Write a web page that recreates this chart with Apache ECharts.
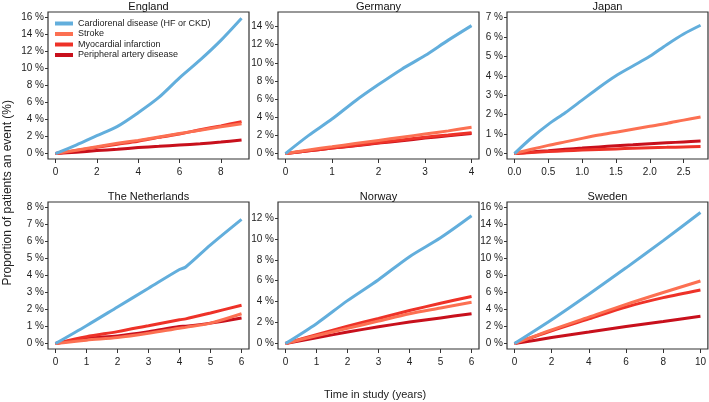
<!DOCTYPE html>
<html>
<head>
<meta charset="utf-8">
<script src="https://cdn.jsdelivr.net/npm/echarts@6/dist/echarts.min.js"></script>
<style>
  html, body { margin: 0; padding: 0; background: #fff; }
  #chart { width: 709px; height: 402px; }
</style>
</head>
<body>
<div id="chart"></div>
<script>
    // series names, same order as the legend
    var seriesNames = ['Cardiorenal disease (HF or CKD)', 'Stroke', 'Myocardial infarction', 'Peripheral artery disease'];
    var seriesColors = ['#62aedc', '#fc7052', '#ee3228', '#c8101c'];

    // England
    var englandTime = [0, 1, 2, 3, 4, 5, 6, 7, 8, 9];
    var englandCardio = [0, 1.0, 2.1, 3.2, 4.8, 6.6, 8.9, 11.0, 13.3, 15.9];
    var englandStroke = [0, 0.4, 0.8, 1.2, 1.55, 1.95, 2.35, 2.75, 3.15, 3.5];
    var englandMI = [0, 0.35, 0.75, 1.1, 1.45, 1.9, 2.3, 2.8, 3.25, 3.75];
    var englandPAD = [0, 0.15, 0.35, 0.5, 0.7, 0.85, 1.0, 1.15, 1.35, 1.6];

    // Germany
    var germanyTime = [0, 0.5, 1, 1.5, 2, 2.5, 3, 3.5, 4];
    var germanyCardio = [0, 2.0, 3.8, 5.8, 7.6, 9.3, 10.8, 12.5, 14.1];
    var germanyStroke = [0, 0.4, 0.75, 1.1, 1.45, 1.8, 2.15, 2.5, 2.9];
    var germanyMI = [0, 0.3, 0.6, 0.9, 1.2, 1.5, 1.8, 2.05, 2.3];
    var germanyPAD = [0, 0.3, 0.6, 0.85, 1.15, 1.4, 1.7, 1.95, 2.2];

    // Japan
    var japanTime = [0, 0.25, 0.5, 0.75, 1, 1.25, 1.5, 1.75, 2, 2.25, 2.5, 2.75];
    var japanCardio = [0, 0.8, 1.5, 2.1, 2.75, 3.4, 4.0, 4.5, 5.0, 5.6, 6.15, 6.6];
    var japanStroke = [0, 0.22, 0.42, 0.6, 0.78, 0.95, 1.1, 1.25, 1.4, 1.55, 1.72, 1.88];
    var japanMI = [0, 0.05, 0.1, 0.14, 0.18, 0.21, 0.24, 0.27, 0.3, 0.32, 0.34, 0.36];
    var japanPAD = [0, 0.08, 0.15, 0.22, 0.28, 0.34, 0.4, 0.45, 0.5, 0.55, 0.6, 0.65];

    // The Netherlands
    var netherlandsTime = [0, 1, 2, 3, 4, 4.2, 5, 6];
    var netherlandsCardio = [0, 1.05, 2.15, 3.25, 4.35, 4.5, 5.8, 7.3];
    var netherlandsStroke = [0, 0.2, 0.35, 0.6, 0.9, 0.95, 1.2, 1.75];
    var netherlandsMI = [0, 0.4, 0.7, 1.05, 1.4, 1.45, 1.8, 2.25];
    var netherlandsPAD = [0, 0.3, 0.45, 0.7, 1.0, 1.02, 1.2, 1.5];

    // Norway
    var norwayTime = [0, 1, 2, 3, 4, 5, 6];
    var norwayCardio = [0, 1.9, 4.1, 6.1, 8.3, 10.1, 12.2];
    var norwayStroke = [0, 0.75, 1.45, 2.15, 2.85, 3.4, 3.95];
    var norwayMI = [0, 0.85, 1.65, 2.4, 3.15, 3.85, 4.5];
    var norwayPAD = [0, 0.55, 1.1, 1.6, 2.05, 2.45, 2.85];

    // Sweden
    var swedenTime = [0, 2, 4, 6, 8, 10];
    var swedenCardio = [0, 2.8, 5.8, 8.9, 12.1, 15.4];
    var swedenStroke = [0, 1.6, 3.1, 4.6, 6.0, 7.35];
    var swedenMI = [0, 1.5, 2.9, 4.3, 5.4, 6.3];
    var swedenPAD = [0, 0.7, 1.35, 2.0, 2.6, 3.2];

    // tick values
    var englandXTicks = [0, 2, 4, 6, 8];
    var englandYTicks = [0, 2, 4, 6, 8, 10, 12, 14, 16];
    var germanyXTicks = [0, 1, 2, 3, 4];
    var germanyYTicks = [0, 2, 4, 6, 8, 10, 12, 14];
    var japanXTicks = [0, 0.5, 1, 1.5, 2, 2.5];
    var japanYTicks = [0, 1, 2, 3, 4, 5, 6, 7];
    var netherlandsXTicks = [0, 1, 2, 3, 4, 5, 6];
    var netherlandsYTicks = [0, 1, 2, 3, 4, 5, 6, 7, 8];
    var norwayXTicks = [0, 1, 2, 3, 4, 5, 6];
    var norwayYTicks = [0, 2, 4, 6, 8, 10, 12];
    var swedenXTicks = [0, 2, 4, 6, 8, 10];
    var swedenYTicks = [0, 2, 4, 6, 8, 10, 12, 14, 16];

    var panels = [
        { title: 'England', time: englandTime, lines: [englandCardio, englandStroke, englandMI, englandPAD],
          xTicks: englandXTicks, yTicks: englandYTicks, xMax: 9, yMax: 16, xDec: 0 },
        { title: 'Germany', time: germanyTime, lines: [germanyCardio, germanyStroke, germanyMI, germanyPAD],
          xTicks: germanyXTicks, yTicks: germanyYTicks, xMax: 4, yMax: 15, xDec: 0 },
        { title: 'Japan', time: japanTime, lines: [japanCardio, japanStroke, japanMI, japanPAD],
          xTicks: japanXTicks, yTicks: japanYTicks, xMax: 2.75, yMax: 7, xDec: 1 },
        { title: 'The Netherlands', time: netherlandsTime, lines: [netherlandsCardio, netherlandsStroke, netherlandsMI, netherlandsPAD],
          xTicks: netherlandsXTicks, yTicks: netherlandsYTicks, xMax: 6, yMax: 8, xDec: 0 },
        { title: 'Norway', time: norwayTime, lines: [norwayCardio, norwayStroke, norwayMI, norwayPAD],
          xTicks: norwayXTicks, yTicks: norwayYTicks, xMax: 6, yMax: 13, xDec: 0 },
        { title: 'Sweden', time: swedenTime, lines: [swedenCardio, swedenStroke, swedenMI, swedenPAD],
          xTicks: swedenXTicks, yTicks: swedenYTicks, xMax: 10, yMax: 16, xDec: 0 }
    ];

    var gridLefts = [48, 278, 507];
    var gridTops = [12, 202];
    var gridW = 201, gridH = 147;
    var font = 'Liberation Sans, Arial, sans-serif';

    var option = {
        backgroundColor: '#fff',
        animation: false,
        textStyle: { fontFamily: font },
        title: [],
        grid: [],
        xAxis: [],
        yAxis: [],
        series: [],
        legend: {
            left: 55, top: 19, padding: 0,
            orient: 'vertical',
            itemWidth: 18, itemHeight: 4, itemGap: 1.5,
            icon: 'rect',
            data: seriesNames,
            textStyle: { fontSize: 9, color: '#222', fontFamily: font, lineHeight: 9 }
        },
        graphic: [
            {
                type: 'text', left: 2, top: 100, rotation: Math.PI / 2,
                style: { text: 'Proportion of patients an event (%)', font: '12px ' + font, fill: '#222' }
            },
            {
                type: 'text', left: 324, top: 389,
                style: { text: 'Time in study (years)', font: '11px ' + font, fill: '#222' }
            }
        ]
    };

    panels.forEach(function (p, i) {
        var left = gridLefts[i % 3], top = gridTops[Math.floor(i / 3)];
        var xPad = p.xMax * 0.04, yPad = p.yMax * 0.04;
        option.title.push({
            text: p.title, left: left + gridW / 2, top: top - 11, textAlign: 'center', padding: 0,
            textStyle: { fontSize: 11, fontWeight: 'normal', color: '#111', fontFamily: font, lineHeight: 11 }
        });
        option.grid.push({
            left: left, top: top, width: gridW, height: gridH,
            show: true, borderColor: '#333', borderWidth: 1.2, backgroundColor: 'transparent'
        });
        option.xAxis.push({
            type: 'value', gridIndex: i, min: -xPad, max: p.xMax + xPad,
            axisLine: { show: false, onZero: false },
            axisTick: { show: true, length: 4, customValues: p.xTicks, lineStyle: { color: '#333' } },
            axisLabel: {
                customValues: p.xTicks, margin: 8, fontSize: 10, color: '#222',
                formatter: function (v) { return v.toFixed(p.xDec); }
            },
            splitLine: { show: false }
        });
        option.yAxis.push({
            type: 'value', gridIndex: i, min: -yPad, max: p.yMax + yPad,
            axisLine: { show: false, onZero: false },
            axisTick: { show: true, length: 3, customValues: p.yTicks, lineStyle: { color: '#333' } },
            axisLabel: {
                customValues: p.yTicks, margin: 4, fontSize: 10, color: '#222',
                formatter: function (v) { return v + ' %'; }
            },
            splitLine: { show: false }
        });
        // draw dark lines first, blue on top
        for (var k = 3; k >= 0; k--) {
            option.series.push({
                name: seriesNames[k],
                type: 'line',
                xAxisIndex: i, yAxisIndex: i,
                showSymbol: false, symbol: 'none',
                smooth: 0.3,
                lineStyle: { width: 3, color: seriesColors[k] },
                itemStyle: { color: seriesColors[k] },
                data: p.time.map(function (t, j) { return [t, p.lines[k][j]]; })
            });
        }
    });

    var chart = echarts.init(document.getElementById('chart'));
    chart.setOption(option);
</script>
</body>
</html>
